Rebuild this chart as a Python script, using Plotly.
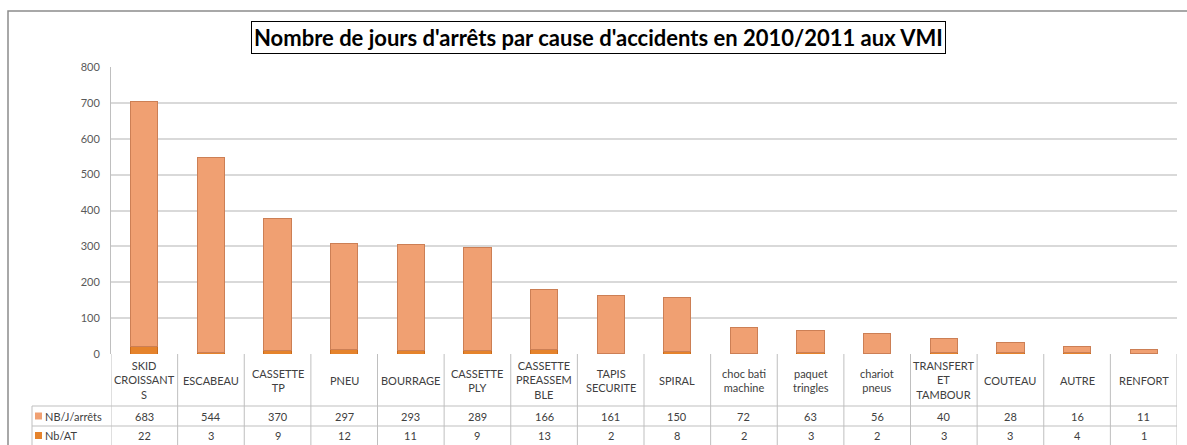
import plotly.graph_objects as go

# Accident causes and their figures for 2010/2011
categories = ["SKID<br>CROISSANT<br>S", "ESCABEAU", "CASSETTE<br>TP", "PNEU", "BOURRAGE",
              "CASSETTE<br>PLY", "CASSETTE<br>PREASSEM<br>BLE", "TAPIS<br>SECURITE", "SPIRAL",
              "choc bati<br>machine", "paquet<br>tringles", "chariot<br>pneus",
              "TRANSFERT<br>ET<br>TAMBOUR", "COUTEAU", "AUTRE", "RENFORT"]
jours_arret = [683, 544, 370, 297, 293, 289, 166, 161, 150, 72, 63, 56, 40, 28, 16, 11]
nb_at = [22, 3, 9, 12, 11, 9, 13, 2, 8, 2, 3, 2, 3, 3, 4, 1]
series_names = ["NB/J/arrêts", "Nb/AT"]
y_ticks = [0, 100, 200, 300, 400, 500, 600, 700, 800]

W, H = 1187, 445
L, R, T, B = 111, 10, 67, 91
PW, PH = W - L - R, H - T - B

def py(px):  # pixel row -> paper y
    return (H - B - px) / PH

def pxx(px):  # pixel column -> paper x
    return (px - L) / PW

C_TOP = "#F0A072"
C_TOP_LINE = "#CC7F55"
C_BOT = "#E5832C"
C_BOT_LINE = "#C86A1C"
TXT = "#404040"
GRID = "#BFBFBF"
FONT = "Lato"

idx = list(range(len(categories)))
n = len(categories)

fig = go.Figure()
fig.add_trace(go.Bar(x=idx, y=nb_at, name=series_names[1],
                     marker=dict(color=C_BOT, line=dict(color=C_BOT_LINE, width=1))))
fig.add_trace(go.Bar(x=idx, y=jours_arret, name=series_names[0],
                     marker=dict(color=C_TOP, line=dict(color=C_TOP_LINE, width=1))))

shapes = []
annotations = []

# Outer chart frame
shapes.append(dict(type="rect", xref="paper", yref="paper", x0=pxx(8), x1=pxx(1195),
                   y0=py(460), y1=py(11), line=dict(color="#8C8C8C", width=1.5),
                   layer="below"))

# Data table below the axis
y_top, y_r1, y_r2, y_bot = py(354), py(406), py(426), py(460)
for i in range(n + 1):
    shapes.append(dict(type="line", xref="x", yref="paper", x0=i - 0.5, x1=i - 0.5,
                       y0=y_top, y1=y_bot, line=dict(color=GRID, width=1)))
for yy in (y_r1, y_r2):
    shapes.append(dict(type="line", xref="x", yref="paper", x0=-0.5, x1=n - 0.5,
                       y0=yy, y1=yy, line=dict(color=GRID, width=1)))
    shapes.append(dict(type="line", xref="paper", yref="paper", x0=pxx(32), x1=0,
                       y0=yy, y1=yy, line=dict(color=GRID, width=1)))
shapes.append(dict(type="line", xref="paper", yref="paper", x0=pxx(32), x1=pxx(32),
                   y0=y_r1, y1=y_bot, line=dict(color=GRID, width=1)))

cell_font = dict(size=11, color=TXT, family=FONT)
for i, cat in enumerate(categories):
    annotations.append(dict(x=i, y=py(380), xref="x", yref="paper", text=cat,
                            showarrow=False, font=cell_font, align="center",
                            xanchor="center", yanchor="middle"))
    annotations.append(dict(x=i, y=py(416), xref="x", yref="paper", text=str(jours_arret[i]),
                            showarrow=False, font=cell_font, xanchor="center", yanchor="middle"))
    annotations.append(dict(x=i, y=py(435.5), xref="x", yref="paper", text=str(nb_at[i]),
                            showarrow=False, font=cell_font, xanchor="center", yanchor="middle"))

# Row headers with legend keys
for name, col, yc in [(series_names[0], C_TOP, 416), (series_names[1], C_BOT, 435.5)]:
    shapes.append(dict(type="rect", xref="paper", yref="paper", x0=pxx(35), x1=pxx(42),
                       y0=py(yc + 3.5), y1=py(yc - 3.5), fillcolor=col,
                       line=dict(color=col, width=0)))
    annotations.append(dict(x=pxx(43), y=py(yc), xref="paper", yref="paper", text=name,
                            showarrow=False, xanchor="left", yanchor="middle", font=cell_font))

# Title box
annotations.append(dict(x=pxx(598), y=py(38), xref="paper", yref="paper",
                        text="<b>Nombre de jours d'arrêts par cause d'accidents en 2010/2011 aux VMI</b>",
                        showarrow=False, xanchor="center", yanchor="middle",
                        font=dict(size=22, color="#000000", family=FONT),
                        bordercolor="#000000", borderwidth=1, borderpad=2, bgcolor="white"))

fig.update_layout(
    width=W, height=H,
    margin=dict(l=L, r=R, t=T, b=B),
    paper_bgcolor="white", plot_bgcolor="white",
    barmode="stack", bargap=0.59,
    showlegend=False,
    shapes=shapes, annotations=annotations,
    xaxis=dict(range=[-0.5, n - 0.5], showticklabels=False,
               showgrid=False, zeroline=False, showline=False, fixedrange=True),
    yaxis=dict(range=[0, 800], tickvals=y_ticks, showgrid=True, gridcolor="#D9D9D9",
               gridwidth=2, zeroline=False, showline=True, linecolor=GRID, linewidth=1,
               ticks="", ticklabelstandoff=8,
               tickfont=dict(size=11, color="#595959", family=FONT)),
)

fig.write_html("out.html")
